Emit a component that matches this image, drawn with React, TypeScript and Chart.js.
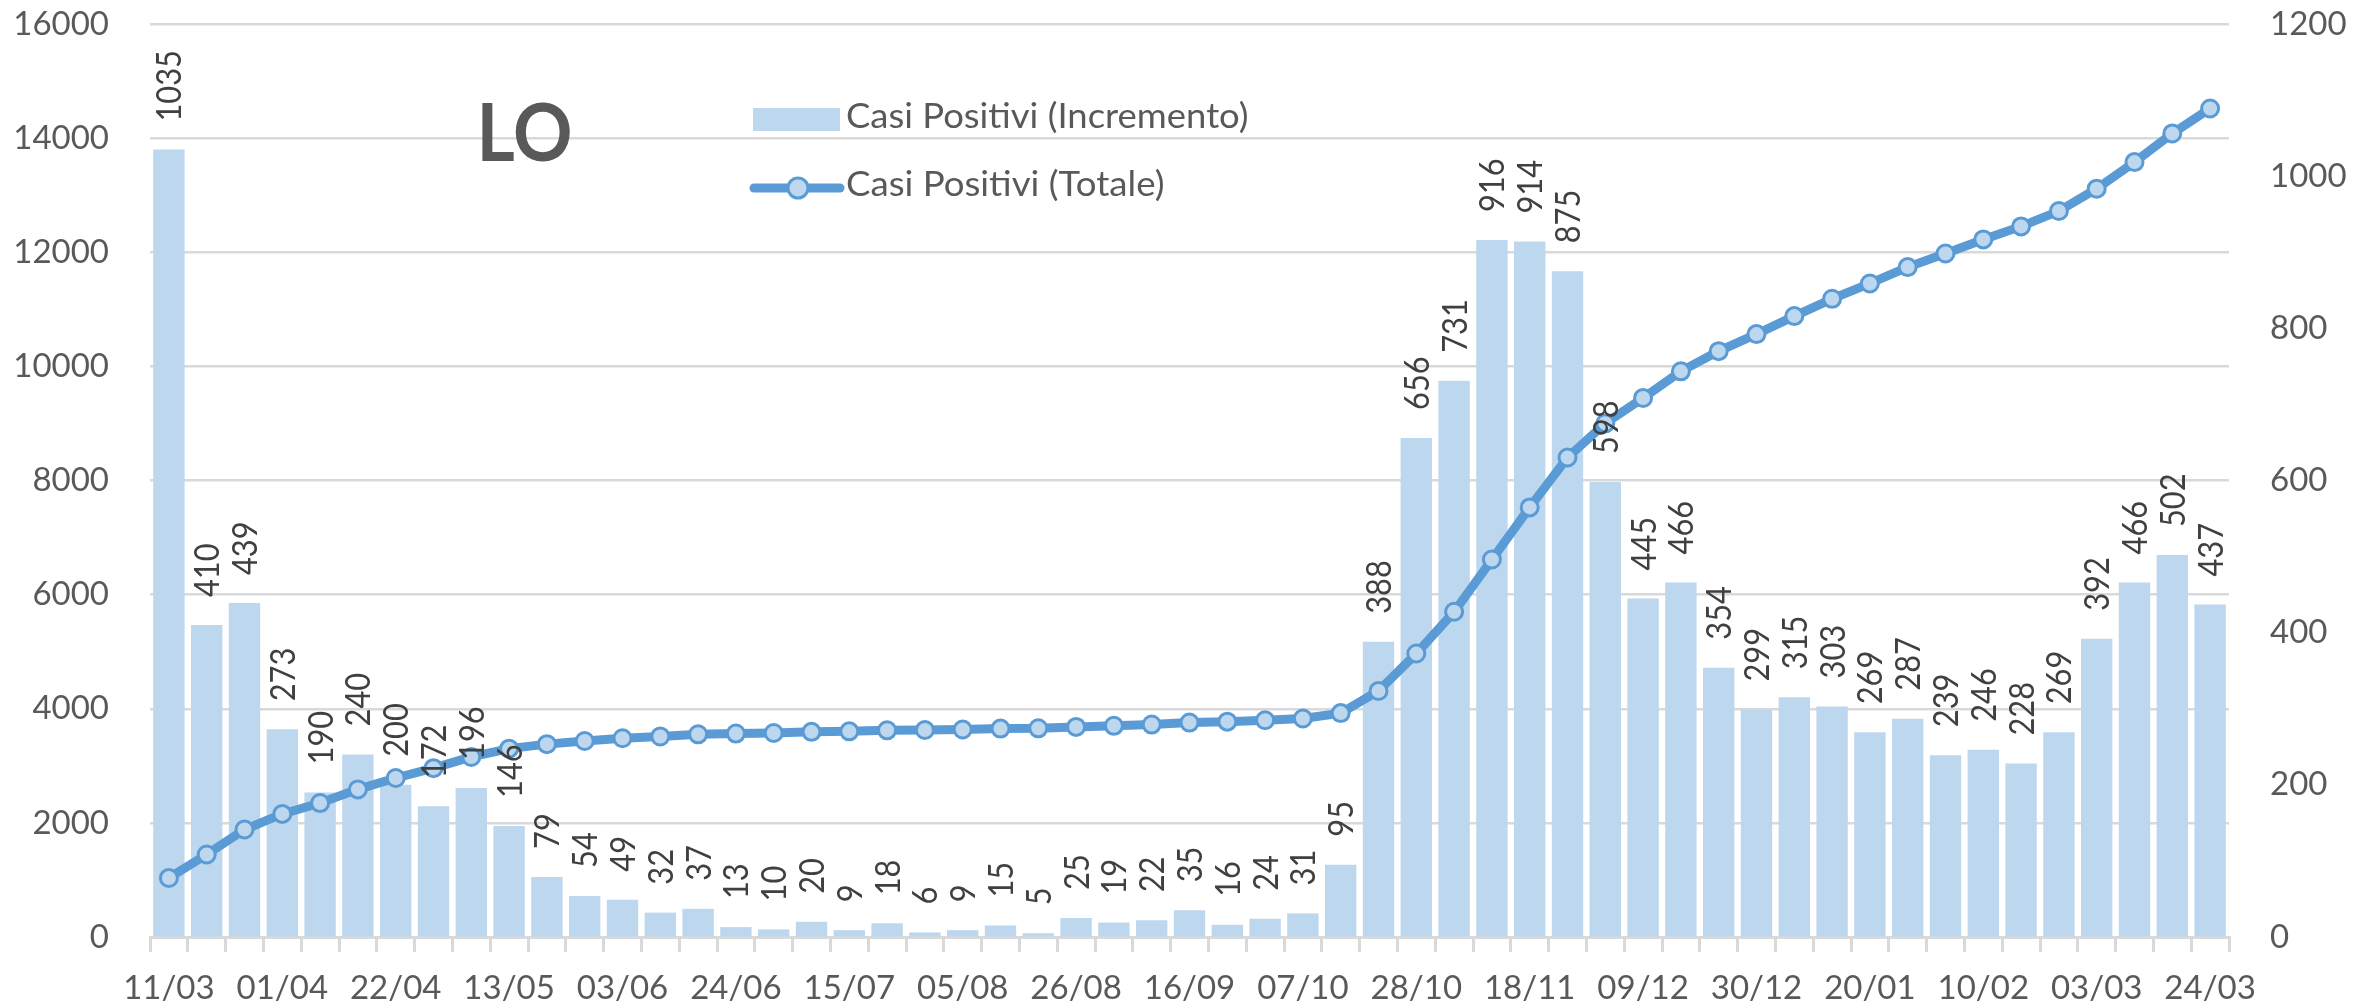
import React, { useEffect, useRef } from "react";
import { Chart, registerables } from "chart.js";

Chart.register(...registerables);

const categories: string[] = [
  "11/03", "18/03", "25/03", "01/04", "08/04", "15/04", "22/04", "29/04", "06/05", "13/05",
  "20/05", "27/05", "03/06", "10/06", "17/06", "24/06", "01/07", "08/07", "15/07", "22/07",
  "29/07", "05/08", "12/08", "19/08", "26/08", "02/09", "09/09", "16/09", "23/09", "30/09",
  "07/10", "14/10", "21/10", "28/10", "04/11", "11/11", "18/11", "25/11", "02/12", "09/12",
  "16/12", "23/12", "30/12", "06/01", "13/01", "20/01", "27/01", "03/02", "10/02", "17/02",
  "24/02", "03/03", "10/03", "17/03", "24/03",
];

const incremento: number[] = [
  1035, 410, 439, 273, 190, 240, 200, 172, 196, 146,
  79, 54, 49, 32, 37, 13, 10, 20, 9, 18,
  6, 9, 15, 5, 25, 19, 22, 35, 16, 24,
  31, 95, 388, 656, 731, 916, 914, 875, 598, 445,
  466, 354, 299, 315, 303, 269, 287, 239, 246, 228,
  269, 392, 466, 502, 437,
];

const totale: number[] = [
  1035, 1445, 1884, 2157, 2347, 2587, 2787, 2959, 3155, 3301,
  3380, 3434, 3483, 3515, 3552, 3565, 3575, 3595, 3604, 3622,
  3628, 3637, 3652, 3657, 3682, 3701, 3723, 3758, 3774, 3798,
  3829, 3924, 4312, 4968, 5699, 6615, 7529, 8404, 9002, 9447,
  9913, 10267, 10566, 10881, 11184, 11453, 11740, 11979, 12225, 12453,
  12722, 13114, 13580, 14082, 14519,
];

const seriesNames: string[] = ["Casi Positivi (Incremento)", "Casi Positivi (Totale)"];
const chartTitle = "LO";
const tickEvery = 3;

const BAR_COLOR = "#BDD7EE";
const LINE_COLOR = "#5B9BD5";
const GRID = "#D9D9D9";
const TEXT = "#595959";
const FONT = "Lato";

const barLabelPlugin = {
  id: "barLabels",
  afterDatasetsDraw(chart: any) {
    const ctx = chart.ctx;
    const meta = chart.getDatasetMeta(0);
    const ds = chart.data.datasets[0].data as number[];
    ctx.save();
    ctx.fillStyle = "#404040";
    ctx.font = `35px ${FONT}`;
    ctx.textAlign = "left";
    ctx.textBaseline = "alphabetic";
    meta.data.forEach((el: any, i: number) => {
      const { x, y } = el.getProps(["x", "y"], true);
      ctx.save();
      ctx.translate(x, y - 28);
      ctx.rotate(-Math.PI / 2);
      ctx.scale(0.88, 1);
      ctx.fillText(String(ds[i]), 0, 12.5);
      ctx.restore();
    });
    ctx.restore();
  },
};

function drawFitted(ctx: any, text: string, left: number, baseline: number, width: number) {
  const m = ctx.measureText(text);
  const w = m.actualBoundingBoxLeft + m.actualBoundingBoxRight;
  const s = width / w;
  ctx.save();
  ctx.translate(left + m.actualBoundingBoxLeft * s, baseline);
  ctx.scale(s, 1);
  ctx.fillText(text, 0, 0);
  ctx.restore();
}

const overlayPlugin = {
  id: "overlay",
  afterDraw(chart: any) {
    const ctx = chart.ctx;
    ctx.save();
    ctx.textAlign = "left";
    ctx.textBaseline = "alphabetic";
    // Title
    ctx.fillStyle = TEXT;
    ctx.font = `bold 80px ${FONT}`;
    drawFitted(ctx, chartTitle, 482, 161, 88);

    // Legend row 1
    ctx.fillStyle = BAR_COLOR;
    ctx.fillRect(753, 108, 87, 23);
    ctx.fillStyle = TEXT;
    ctx.font = `35px ${FONT}`;
    drawFitted(ctx, seriesNames[0], 847, 128, 400);

    // Legend row 2
    ctx.strokeStyle = LINE_COLOR;
    ctx.lineWidth = 9;
    ctx.lineCap = "round";
    ctx.beginPath();
    ctx.moveTo(754, 188);
    ctx.lineTo(840, 188);
    ctx.stroke();
    ctx.beginPath();
    ctx.arc(798, 188, 10, 0, Math.PI * 2);
    ctx.fillStyle = BAR_COLOR;
    ctx.fill();
    ctx.lineWidth = 3;
    ctx.stroke();
    ctx.fillStyle = TEXT;
    drawFitted(ctx, seriesNames[1], 847, 196, 316);
    ctx.restore();
  },
};

export default function App() {
  const ref = useRef<HTMLCanvasElement | null>(null);

  useEffect(() => {
    if (!ref.current) return;
    const chart = new Chart(ref.current, {
      type: "bar",
      data: {
        labels: categories,
        datasets: [
          {
            type: "bar",
            label: seriesNames[0],
            data: incremento,
            yAxisID: "y1",
            backgroundColor: BAR_COLOR,
            barPercentage: 0.83,
            categoryPercentage: 1,
            order: 2,
          } as any,
          {
            type: "line",
            label: seriesNames[1],
            data: totale,
            yAxisID: "y",
            borderColor: LINE_COLOR,
            borderWidth: 9,
            pointRadius: 8.5,
            pointBackgroundColor: BAR_COLOR,
            pointBorderColor: LINE_COLOR,
            pointBorderWidth: 3,
            tension: 0,
            order: 1,
          } as any,
        ],
      },
      options: {
        responsive: true,
        maintainAspectRatio: false,
        animation: false,
        layout: { padding: { top: 24, left: 0, right: 0, bottom: 0 } },
        plugins: {
          legend: { display: false },
          tooltip: { enabled: false },
          title: { display: false },
        },
        scales: {
          x: {
            offset: true,
            afterFit: (s: any) => {
              s.height = 71;
            },
            grid: {
              display: true,
              offset: true,
              drawOnChartArea: false,
              drawTicks: true,
              tickLength: 15,
              color: GRID,
              lineWidth: 3,
            },
            border: { display: true, color: GRID, width: 3 },
            ticks: {
              autoSkip: false,
              maxRotation: 0,
              minRotation: 0,
              padding: 17,
              color: TEXT,
              font: { family: FONT, size: 33 },
              callback: (_v: any, i: number) => (i % tickEvery === 0 ? categories[i] : ""),
            },
          },
          y: {
            position: "left",
            min: 0,
            max: 16000,
            afterFit: (s: any) => {
              s.width = 150;
            },
            grid: {
              color: GRID,
              lineWidth: 2.5,
              drawTicks: true,
              tickLength: 37,
              tickColor: "rgba(0,0,0,0)",
            },
            border: { display: false },
            ticks: {
              stepSize: 2000,
              padding: 4,
              color: TEXT,
              font: { family: FONT, size: 33 },
              callback: (v: any) => String(v),
            },
          },
          y1: {
            position: "right",
            min: 0,
            max: 1200,
            afterFit: (s: any) => {
              s.width = 145;
            },
            grid: {
              drawOnChartArea: false,
              drawTicks: true,
              tickLength: 37,
              tickColor: "rgba(0,0,0,0)",
            },
            border: { display: false },
            ticks: {
              stepSize: 200,
              padding: 4,
              color: TEXT,
              font: { family: FONT, size: 33 },
              callback: (v: any) => String(v),
            },
          },
        },
      } as any,
      plugins: [barLabelPlugin, overlayPlugin],
    });
    return () => chart.destroy();
  }, []);

  return (
    <div style={{ position: "fixed", left: 0, top: 0, width: 2374, height: 1008, background: "#fff" }}>
      <canvas ref={ref} />
    </div>
  );
}
